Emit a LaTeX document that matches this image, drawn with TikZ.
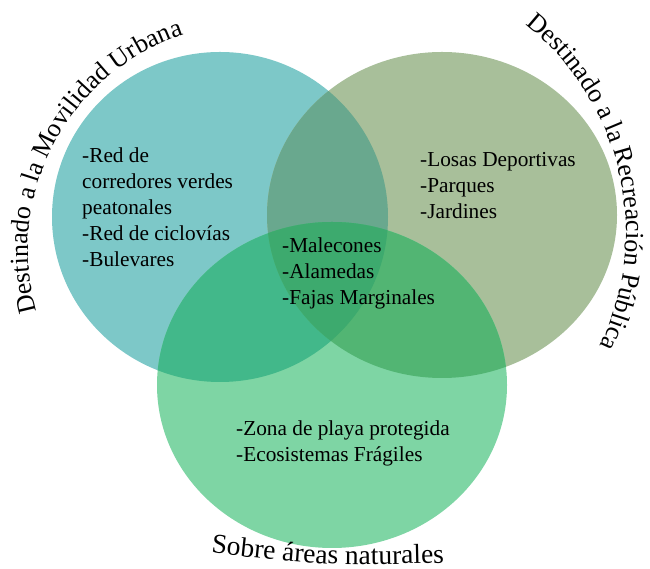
\documentclass[tikz,border=0pt]{standalone}
\usepackage{fontspec}
\setmainfont{Liberation Serif}
\usetikzlibrary{decorations.text}
\definecolor{movilidadteal}{HTML}{7DC8C8}
\definecolor{recreacionolive}{HTML}{A8BF9A}
\definecolor{naturalgreen}{HTML}{7ED5A4}
\definecolor{tealolive}{HTML}{69A88E}
\definecolor{tealgreen}{HTML}{42B88A}
\definecolor{olivegreen}{HTML}{52B573}
\definecolor{allthree}{HTML}{3DAA6E}
\newcommand{\labelfont}{\fontsize{26}{30}\selectfont}
\newcommand{\bottomlabelfont}{\fontsize{27.5}{32}\selectfont}

\begin{document}
\begin{tikzpicture}[
  x=1pt,
  y=1pt,
  itemlist/.style={anchor=base west,align=left,inner sep=0pt,font=\fontsize{21.3}{26}\selectfont,text=black},
  arclabel/.style={decorate,decoration={text along path,text align=left,text={|\labelfont|#1}}},
  bottomlabel/.style={decorate,decoration={text along path,text align=left,text={|\bottomlabelfont|#1}}}
]
  \newcommand{\movilidaddisc}{(220,352) ellipse[x radius=168,y radius=165]}
  \newcommand{\recreaciondisc}{(442,354) ellipse[x radius=175,y radius=163]}
  \newcommand{\naturaldisc}{(332,184) ellipse[x radius=175,y radius=163]}

  \useasboundingbox (0,0) rectangle (650,569);

  % The three sets, then every overlap painted over them.
  \fill[movilidadteal] \movilidaddisc;
  \fill[recreacionolive] \recreaciondisc;
  \fill[naturalgreen] \naturaldisc;
  \begin{scope}
    \clip \movilidaddisc;
    \fill[tealolive] \recreaciondisc;
    \fill[tealgreen] \naturaldisc;
  \end{scope}
  \begin{scope}
    \clip \recreaciondisc;
    \fill[olivegreen] \naturaldisc;
  \end{scope}
  \begin{scope}
    \clip \movilidaddisc;
    \clip \recreaciondisc;
    \fill[allthree] \naturaldisc;
  \end{scope}

  % Curved set titles.
  \path[arclabel={Destinado a la Movilidad Urbana}]
    (255,319) ++(195.8:227) arc[start angle=195.8,end angle=98,radius=227];
  \path[arclabel={Destinado a la Recreación Pública}]
    (361,337) ++(51.6:265) arc[start angle=51.6,end angle=-32,radius=265];
  \path[bottomlabel={Sobre áreas naturales}]
    (211,16) .. controls (330,3) .. (480,7);

  % Contents of each region (anchored on the last line).
  \node[itemlist] (movilidaditems) at (82,302)
    {-Red de\\corredores verdes\\peatonales\\-Red de ciclovías\\-Bulevares};
  \node[itemlist] (recreacionitems) at (420,350)
    {-Losas Deportivas\\-Parques\\-Jardines};
  \node[itemlist] (comunitems) at (282,264)
    {-Malecones\\-Alamedas\\-Fajas Marginales};
  \node[itemlist] (naturalitems) at (236,107)
    {-Zona de playa protegida\\-Ecosistemas Frágiles};
\end{tikzpicture}
\end{document}
